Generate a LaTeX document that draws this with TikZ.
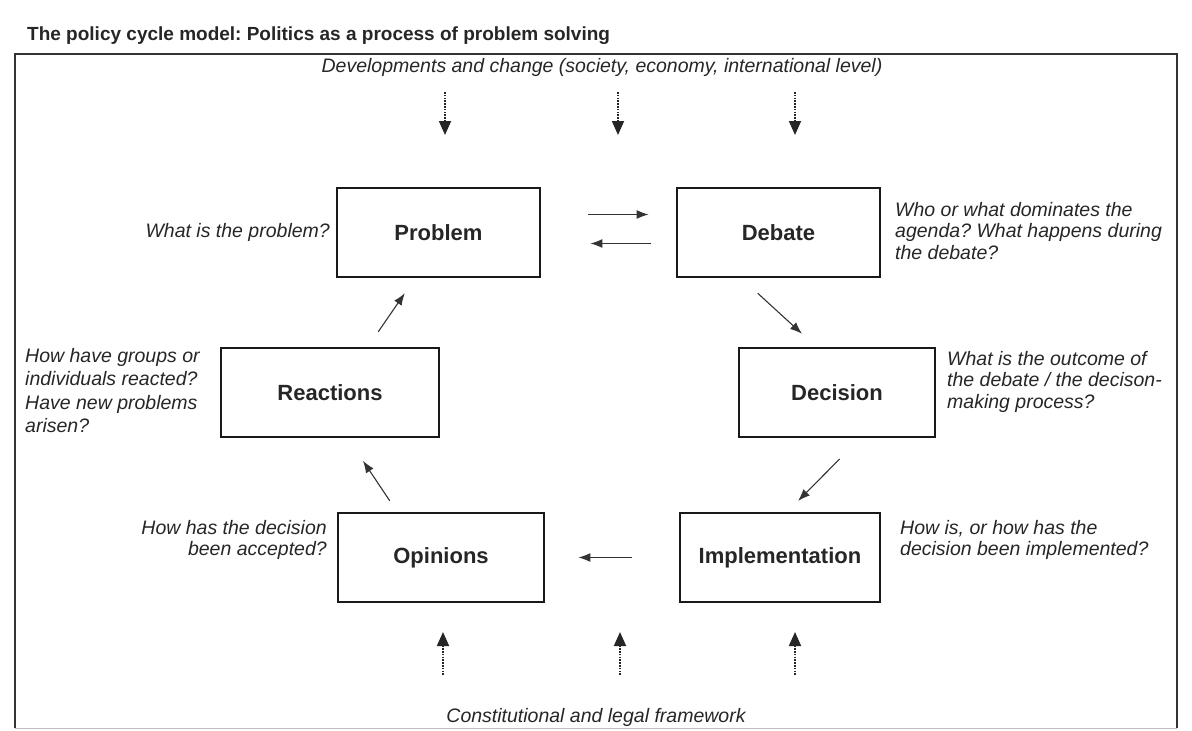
\documentclass[tikz,border=0pt]{standalone}
\usepackage{fontspec}
\setmainfont{Liberation Sans}
\usetikzlibrary{arrows.meta}
\frenchspacing
\begin{document}
\begin{tikzpicture}[x=1pt,y=-1pt,
  stage/.style={draw=black!90,line width=2.8pt,minimum height=89pt,inner sep=0pt,font=\bfseries\fontsize{22}{26}\selectfont,text=black!85},
  ask/.style={inner sep=0pt,font=\itshape\fontsize{19.5}{21.5}\selectfont,text=black!85},
  flow/.style={-{Latex[length=12pt,width=9pt]},line width=1.1pt,black!80},
  feed/.style={-{Triangle[length=14pt,width=12pt]},line width=1.8pt,dash pattern=on 1.6pt off 1.2pt,black!85}]
\useasboundingbox(0,0)rectangle(1192,731);
\draw[line width=1.5pt,black!80](15,728)|-(1177,54)--(1177,728);
\draw[black!25](15,728)--(1177,728);
\node[anchor=base west,inner sep=0pt,font=\bfseries\fontsize{19}{22}\selectfont,text=black!85](title)at(27,40){The policy cycle model: Politics as a process of problem solving};
\node[ask,anchor=base](dev)at(602,72){Developments and change (society, economy, international level)};
\node[ask,anchor=base](legal)at(596,722){Constitutional and legal framework};
% the six stages
\node[stage,minimum width=203pt](problem)at(438.5,232.5){Problem};
\node[stage,minimum width=203pt](debate)at(778.5,232.5){Debate};
\node[stage,minimum width=218pt](reactions)at(330,392.5){Reactions};
\node[stage,minimum width=196pt](decision)at(837,392.5){Decision};
\node[stage,minimum width=206pt](opinions)at(441,557.5){Opinions};
\node[stage,minimum width=200pt](implementation)at(780,557.5){Implementation};
% questions
\node[ask,anchor=base east](qproblem)at(330,237){What is the problem?};
\node[ask,anchor=north west,align=left](qdebate)at(895,202){Who or what dominates the\\agenda? What happens during\\the debate?};
\node[ask,anchor=north west,align=left](qdecision)at(947,351){What is the outcome of\\the debate / the decison-\\making process?};
\node[ask,anchor=north west,align=left,font=\itshape\fontsize{19.5}{23.5}\selectfont](qreactions)at(25,348){How have groups or\\individuals reacted?\\Have new problems\\arisen?};
\node[ask,anchor=north east,align=right](qopinions)at(327,520){How has the decision\\been accepted?};
\node[ask,anchor=north west,align=left](qimplementation)at(900,520){How is, or how has the\\decision been implemented?};
% cycle
\draw[flow,shorten <=47pt,shorten >=27pt]([yshift=18pt]problem.east)--([yshift=18pt]debate.west);
\draw[flow,shorten <=25pt,shorten >=49pt]([yshift=-11pt]debate.west)--([yshift=-11pt]problem.east);
\draw[flow,shorten <=22pt,shorten >=19pt]([xshift=-37pt]debate.south)--([xshift=-21pt]decision.north);
\draw[flow,shorten <=29pt,shorten >=15pt]([xshift=23pt]decision.south)--([xshift=7.5pt]implementation.north);
\draw[flow,shorten <=47pt,shorten >=33pt](implementation.west)--(opinions.east);
\draw[flow,shorten <=13pt,shorten >=27pt]([xshift=-44pt]opinions.north)--([xshift=18pt]reactions.south);
\draw[flow,shorten <=18pt,shorten >=18pt]([xshift=38pt]reactions.north)--([xshift=-23.5pt]problem.south);
% outside influences
\coordinate(topfeed)at(0,92);
\coordinate(bottomfeed)at(0,675);
\foreach \x in {445,618,795}{\draw[feed](topfeed-|\x,0)--++(0,43);}
\foreach \x in {443,620,795}{\draw[feed](bottomfeed-|\x,0)--++(0,-43);}
\end{tikzpicture}
\end{document}
